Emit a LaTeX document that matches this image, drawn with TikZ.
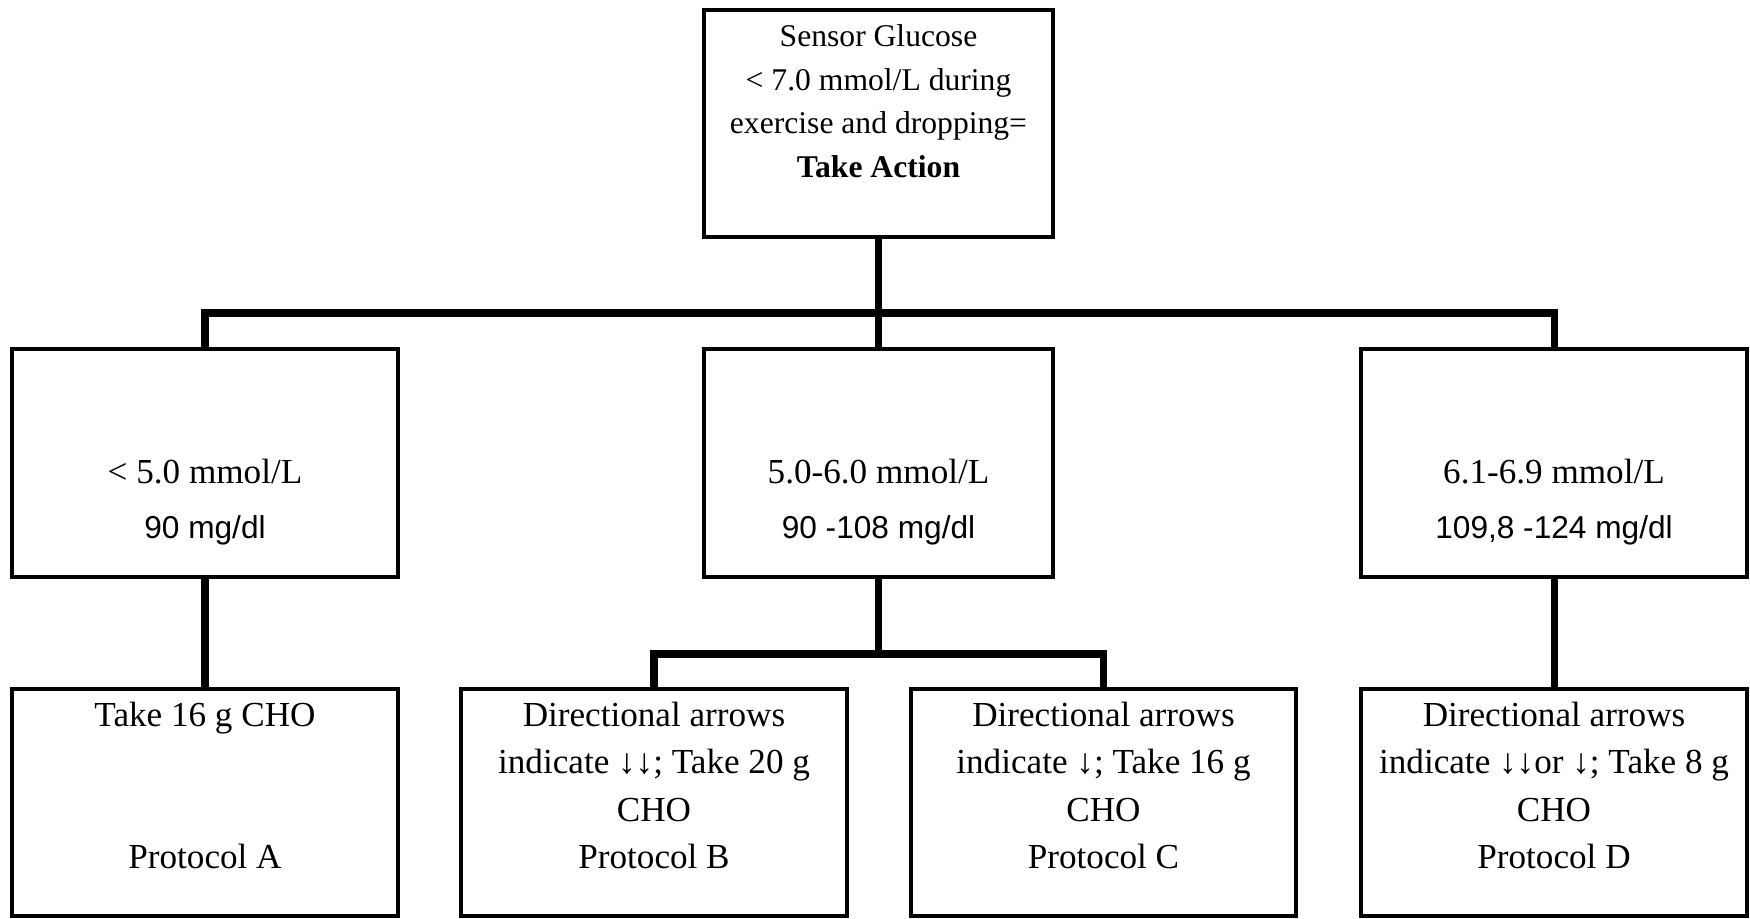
\documentclass[tikz,border=0pt]{standalone}
\usepackage{fontspec}
\setmainfont{Liberation Serif}
\setsansfont{Liberation Sans}
\usepackage{tikz}

\begin{document}
\begin{tikzpicture}[x=1cm, y=-1cm,
		box/.style={draw=black, line width=0.9pt, minimum width=3.86cm, minimum height=2.27cm, inner sep=0pt},
		txt/.style={align=center, font=\fontsize{10}{13.5}\selectfont, inner sep=0pt},
		link/.style={line width=2pt}]
		%%%%% START %%%%%
		
		\useasboundingbox (0, 0) rectangle (17.5, 9.19);
		\coordinate (bus) at (0, 3.13);
		\coordinate (subBus) at (0, 6.54);
		
		\node[box, minimum width=3.49cm] (sensor) at (8.785, 1.235) {};
		\node[txt, font=\fontsize{9}{12.4}\selectfont] (sensorTxt) at (8.785, 1.01) {Sensor Glucose\\< 7.0 mmol/L during\\exercise and dropping=\\\textbf{Take Action}};
		
		\node[box, minimum height=2.28cm] (low) at (2.05, 4.63) {};
		\node[box, minimum width=3.49cm, minimum height=2.28cm] (mid) at (8.785, 4.63) {};
		\node[box, minimum height=2.28cm] (high) at (15.54, 4.63) {};
		\node[txt] (lowTxt) at (2.05, 5.02) {< 5.0 mmol/L\\[2pt]{\sffamily\fontsize{9}{11}\selectfont 90 mg/dl}};
		\node[txt] (midTxt) at (8.785, 5.02) {5.0-6.0 mmol/L\\[2pt]{\sffamily\fontsize{9}{11}\selectfont 90 -108 mg/dl}};
		\node[txt] (highTxt) at (15.54, 5.02) {6.1-6.9 mmol/L\\[2pt]{\sffamily\fontsize{9}{11}\selectfont 109,8 -124 mg/dl}};
		
		\node[box] (protoA) at (2.05, 8.025) {};
		\node[box] (protoB) at (6.54, 8.025) {};
		\node[box, minimum width=3.85cm] (protoC) at (11.035, 8.025) {};
		\node[box] (protoD) at (15.54, 8.025) {};
		\node[txt] (protoATxt) at (2.05, 7.855) {Take 16 g CHO\\[27pt]Protocol A};
		\node[txt] (protoBTxt) at (6.54, 7.855) {Directional arrows\\indicate ↓↓; Take 20 g\\CHO\\Protocol B};
		\node[txt] (protoCTxt) at (11.035, 7.855) {Directional arrows\\indicate ↓; Take 16 g\\CHO\\Protocol C};
		\node[txt] (protoDTxt) at (15.54, 7.855) {Directional arrows\\indicate ↓↓or ↓; Take 8 g\\CHO\\Protocol D};
		
		\draw[link] (sensor.south) -- (mid.north);
		\draw[link] (low.north) |- (sensor.south |- bus) -| (high.north);
		
		\draw[link] (low.south) -- (protoA.north);
		\draw[link] (mid.south) -- (mid.south |- subBus);
		\draw[link] (protoB.north) |- (mid.south |- subBus) -| (protoC.north);
		\draw[link] (high.south) -- (protoD.north);
		
		%%%%% END %%%%%
	\end{tikzpicture}
\end{document}
